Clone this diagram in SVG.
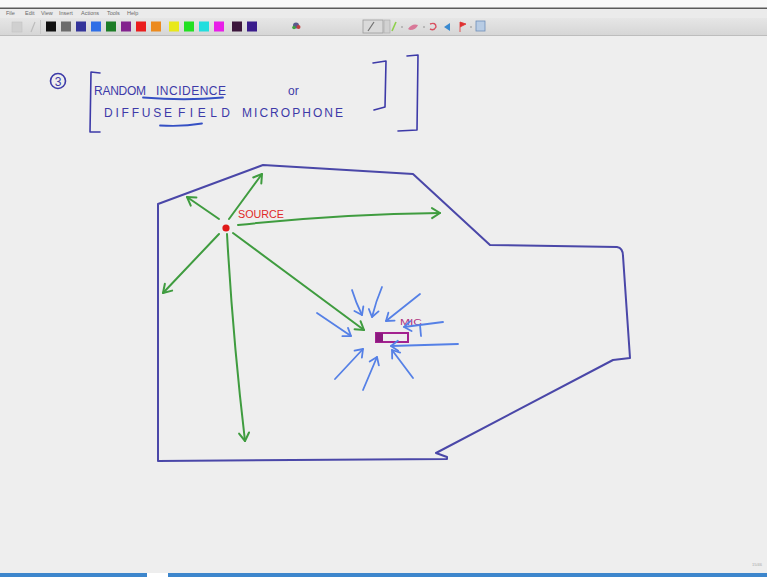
<svg xmlns="http://www.w3.org/2000/svg" width="767" height="577" viewBox="0 0 767 577">
  <defs>
    <linearGradient id="tbGrad" x1="0" y1="0" x2="0" y2="1">
      <stop offset="0" stop-color="#e6e6e6"/>
      <stop offset="1" stop-color="#d6d6d6"/>
    </linearGradient>
    <marker id="headG" markerUnits="userSpaceOnUse" markerWidth="16" markerHeight="16" viewBox="-10 -8 12 16" refX="0" refY="0" orient="auto">
      <path d="M-8,-5 L0,0 L-8,5" fill="none" stroke="#3f9c3f" stroke-width="2" stroke-linecap="round" stroke-linejoin="round"/>
    </marker>
    <marker id="headB" markerUnits="userSpaceOnUse" markerWidth="16" markerHeight="16" viewBox="-10 -8 12 16" refX="0" refY="0" orient="auto">
      <path d="M-7,-5 L0,0 L-7,5" fill="none" stroke="#5580e6" stroke-width="1.8" stroke-linecap="round" stroke-linejoin="round"/>
    </marker>
  </defs>
  <style>
    .menu { font-family: "Liberation Sans", Arial, sans-serif; font-size: 5.5px; fill: #6a6a6a; }
    .ink { font-family: "Liberation Sans", Arial, sans-serif; font-size: 12px; fill: #3d3aa8; }
    .pen { fill: none; stroke: #3d3aa8; stroke-width: 1.6; stroke-linecap: round; stroke-linejoin: round; }
    .uline { fill: none; stroke: #3550c4; stroke-width: 1.8; stroke-linecap: round; }
    .wall { fill: none; stroke: #4a47a8; stroke-width: 2; stroke-linejoin: round; stroke-linecap: round; }
    .ray { fill: none; stroke: #3f9c3f; stroke-width: 2; stroke-linecap: round; marker-end: url(#headG); }
    .wave { fill: none; stroke: #5580e6; stroke-width: 1.8; stroke-linecap: round; marker-end: url(#headB); }
    .sw { stroke: none; }
  </style>

  <!-- window chrome -->
  <rect x="0" y="0" width="767" height="8" fill="#f8f8f8"/>
  <rect x="0" y="7.5" width="767" height="1.5" fill="#5a5a5a"/>
  <rect x="0" y="9" width="767" height="9" fill="#ebebeb"/>
  <g id="menu">
    <text class="menu" x="6" y="15">File</text>
    <text class="menu" x="25" y="15">Edit</text>
    <text class="menu" x="41" y="15">View</text>
    <text class="menu" x="59" y="15">Insert</text>
    <text class="menu" x="81" y="15">Actions</text>
    <text class="menu" x="107" y="15">Tools</text>
    <text class="menu" x="127" y="15">Help</text>
  </g>
  <rect x="0" y="18" width="767" height="17" fill="url(#tbGrad)"/>
  <rect x="0" y="35" width="767" height="1" fill="#bdbdbd"/>
  <g id="toolbar">
    <rect x="12" y="22" width="10" height="10" fill="#d0d0d0" stroke="#c2c2c2" stroke-width="0.6"/>
    <line x1="31" y1="32" x2="35" y2="22" stroke="#bcbcbc" stroke-width="1.2"/>
    <rect x="40" y="20" width="1" height="14" fill="#c8c8c8"/>
    <rect class="sw" x="46" y="21.5" width="10" height="10" fill="#101010"/>
    <rect class="sw" x="61" y="21.5" width="10" height="10" fill="#6c6c6c"/>
    <rect class="sw" x="76" y="21.5" width="10" height="10" fill="#34349a"/>
    <rect class="sw" x="91" y="21.5" width="10" height="10" fill="#2f6fe6"/>
    <rect class="sw" x="106" y="21.5" width="10" height="10" fill="#1c7d26"/>
    <rect class="sw" x="121" y="21.5" width="10" height="10" fill="#83238e"/>
    <rect class="sw" x="136" y="21.5" width="10" height="10" fill="#ea1c1c"/>
    <rect class="sw" x="151" y="21.5" width="10" height="10" fill="#ec8a1e"/>
    <rect class="sw" x="169" y="21.5" width="10" height="10" fill="#e8e81a"/>
    <rect class="sw" x="184" y="21.5" width="10" height="10" fill="#22e022"/>
    <rect class="sw" x="199" y="21.5" width="10" height="10" fill="#22dede"/>
    <rect class="sw" x="214" y="21.5" width="10" height="10" fill="#e81ee8"/>
    <rect class="sw" x="232" y="21.5" width="10" height="10" fill="#3c163c"/>
    <rect class="sw" x="247" y="21.5" width="10" height="10" fill="#3a1c8c"/>
    <circle cx="296" cy="25.5" r="3" fill="#5a5a8c"/>
    <circle cx="298.5" cy="27" r="2" fill="#c04040"/>
    <circle cx="294" cy="27.5" r="1.8" fill="#40a040"/>
    <rect x="363" y="20" width="20" height="13" fill="#dadada" stroke="#9c9c9c" stroke-width="0.8"/>
    <line x1="368" y1="31" x2="374" y2="22" stroke="#707070" stroke-width="1.2"/>
    <rect x="384" y="20" width="6" height="13" fill="#d2d2d2" stroke="#a8a8a8" stroke-width="0.6"/>
    <line x1="392" y1="31" x2="396" y2="22" stroke="#8ed04c" stroke-width="1.6"/>
    <circle cx="402" cy="27" r="0.8" fill="#888"/>
    <path d="M408,29 Q412,23 418,25 Q416,30 410,30 Z" fill="#d87898"/>
    <circle cx="424" cy="27" r="0.8" fill="#888"/>
    <path d="M430,24 Q436,22 436,27 Q434,31 430,29" fill="none" stroke="#d85060" stroke-width="1.4"/>
    <path d="M444,27 L450,23 L450,31 Z" fill="#3a8ad0"/>
    <path d="M460,32 L460,22 L466,24 L460,27" fill="#e03030" stroke="#e03030" stroke-width="0.8"/>
    <circle cx="471" cy="27" r="0.8" fill="#888"/>
    <rect x="476" y="21" width="9" height="10" fill="#b8cce4" stroke="#6e8eb8" stroke-width="0.8"/>
  </g>

  <!-- page -->
  <rect x="0" y="36" width="767" height="537" fill="#eeeeee"/>
  <rect x="0" y="573" width="147" height="4" fill="#3d86cc"/>
  <rect x="168" y="573" width="599" height="4" fill="#3d86cc"/>
  <text x="752" y="566" font-family="Liberation Sans, Arial, sans-serif" font-size="4" fill="#a8a8a8">15/46</text>

  <!-- heading -->
  <g id="heading">
    <circle cx="58" cy="81" r="7.5" class="pen"/>
    <text class="ink" x="58" y="85.5" font-size="11" text-anchor="middle">3</text>
    <path class="pen" d="M100,73 L91,72 L90,132 L100,132"/>
    <text class="ink" x="94" y="95" font-size="11" textLength="52" lengthAdjust="spacing">RANDOM</text>
    <text class="ink" x="156" y="95" font-size="11" textLength="70" lengthAdjust="spacing">INCIDENCE</text>
    <text class="ink" x="288" y="95" font-size="11">or</text>
    <text class="ink" x="104" y="117" textLength="68" lengthAdjust="spacing">DIFFUSE</text>
    <text class="ink" x="178" y="117" textLength="52" lengthAdjust="spacing">FIELD</text>
    <text class="ink" x="242" y="117" textLength="101" lengthAdjust="spacing">MICROPHONE</text>
    <path class="uline" d="M143,97.5 Q185,101 223,97.5"/>
    <path class="uline" d="M160,125.5 Q182,127 202,123.5"/>
    <path class="pen" d="M373,63 L386,61 L385,107 L374,110"/>
    <path class="pen" d="M407,56 L418,55 L417,130 L398,131"/>
  </g>

  <!-- enclosure walls -->
  <g id="room">
    <path class="wall" d="M158,204 L263,165 L413,174 L490,245 L617,247 Q623,248 623,256 L630,358 L613,360 L436,453 L447,457 L447,459 L158,461 Z"/>
  </g>

  <!-- sound source -->
  <g id="source">
    <circle cx="226" cy="228" r="3.6" fill="#e01818"/>
    <text x="238" y="218" font-family="Liberation Sans, Arial, sans-serif" font-size="10" fill="#e02828" textLength="46" lengthAdjust="spacingAndGlyphs">SOURCE</text>
  </g>

  <!-- microphone -->
  <g id="mic">
    <rect x="376" y="333" width="32" height="9" fill="none" stroke="#a3228f" stroke-width="2"/>
    <rect x="376" y="333" width="7" height="9" fill="#8b1a7f"/>
    <text x="400" y="325" font-family="Liberation Sans, Arial, sans-serif" font-size="9" fill="#b0307f" textLength="22" lengthAdjust="spacingAndGlyphs">MIC</text>
  </g>

  <!-- rays from the source -->
  <g id="connectors">
    <path class="ray" d="M229,219 L262,174"/>
    <path class="ray" d="M219,219 L187,197"/>
    <path class="ray" d="M238,225 Q340,214 440,213"/>
    <path class="ray" d="M219,234 L163,293"/>
    <path class="ray" d="M227,234 Q233,340 245,441"/>
    <path class="ray" d="M233,233 L364,330"/>

    <!-- diffuse incidence at the microphone -->
    <path class="wave" d="M352,290 Q356,303 362,315"/>
    <path class="wave" d="M382,287 Q376,301 372,317"/>
    <path class="wave" d="M420,294 L386,321"/>
    <path class="wave" d="M317,313 L351,336"/>
    <path class="wave" d="M443,322 L404,327"/>
    <path d="M420,325 L421,336" fill="none" stroke="#5580e6" stroke-width="1.8" stroke-linecap="round"/>
    <path class="wave" d="M458,344 L391,346"/>
    <path class="wave" d="M413,378 L392,350"/>
    <path class="wave" d="M363,390 L377,357"/>
    <path class="wave" d="M335,379 L363,349"/>
  </g>
</svg>
